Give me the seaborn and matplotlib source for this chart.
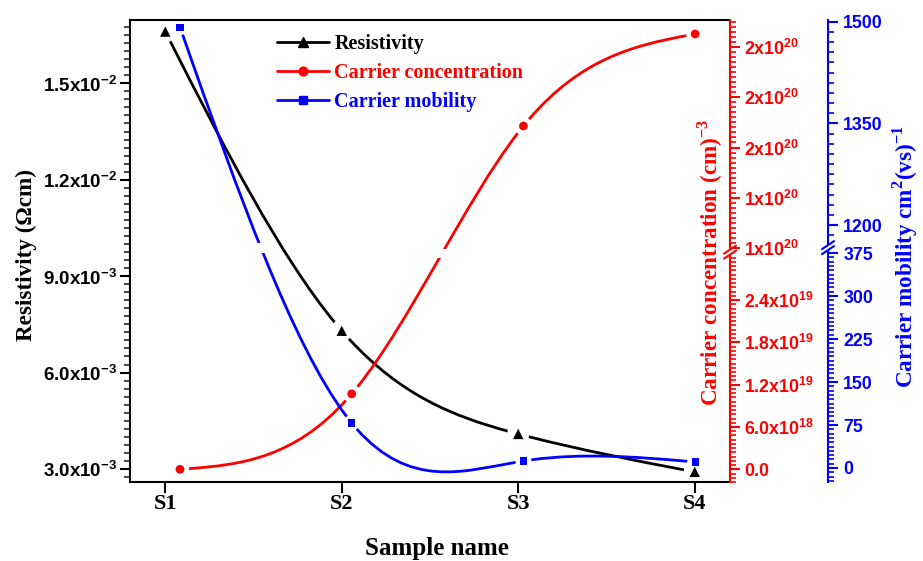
import numpy as np
import matplotlib
matplotlib.use("Agg")
import matplotlib.pyplot as plt
import seaborn as sns
from matplotlib.path import Path
from matplotlib.patches import PathPatch
from matplotlib.lines import Line2D
from matplotlib.ticker import FixedLocator, FuncFormatter, MultipleLocator

# ---- data -------------------------------------------------------------
samples = ["S1", "S2", "S3", "S4"]
resistivity = [1.661e-2, 7.30e-3, 4.09e-3, 2.91e-3]      # Ohm cm
carrier_conc = [0.0, 1.07e19, 1.607e20, 2.065e20]        # cm^-3
mobility = [1492.0, 78.5, 12.2, 10.5]                    # cm^2 / (V s)

res_ticks = [3.0e-3, 6.0e-3, 9.0e-3, 1.2e-2, 1.5e-2]
conc_ticks_low = [0.0, 6.0e18, 1.2e19, 1.8e19, 2.4e19]
conc_ticks_high = [1.0e20, 1.25e20, 1.5e20, 1.75e20, 2.0e20]
mob_ticks_low = [0, 75, 150, 225, 300, 375]
mob_ticks_high = [1200, 1350, 1500]

# ---- style ------------------------------------------------------------
sns.set_theme(style="white")
plt.rcParams.update({
    "font.family": ["Liberation Sans", "DejaVu Sans"],
    "font.weight": "bold",
    "mathtext.fontset": "custom",
    "mathtext.bf": "Liberation Sans:bold",
    "mathtext.rm": "Liberation Serif:bold",
    "axes.linewidth": 1.5,
})
SERIF = dict(family=["Liberation Serif", "DejaVu Serif"], weight="bold")
RED, BLUE, BLACK = "#ff0000", "#0000ff", "#000000"
TITLE_SIZE = 16.7

W, H = 923, 561
FL, FR, FT, FB = 130, 730, 20, 482          # frame in pixels
PW, PH = FR - FL, FB - FT

fig = plt.figure(figsize=(W / 100, H / 100), dpi=100)
rect = [FL / W, (H - FB) / H, PW / W, PH / H]
ax = fig.add_axes(rect, label="res")
ax_r = fig.add_axes(rect, label="conc", facecolor="none")
ax_b = fig.add_axes(rect, label="mob", facecolor="none")


def piecewise(vs, hs):
    """Piecewise-linear broken-axis mapping value -> plot height."""
    vs = np.asarray(vs, float)
    hs = np.asarray(hs, float)

    def fwd(v):
        v = np.asarray(v, float)
        out = hs[0] + (v - vs[0]) * (hs[1] - hs[0]) / (vs[1] - vs[0])
        for k in (1, 2):
            seg = hs[k] + (v - vs[k]) * (hs[k + 1] - hs[k]) / (vs[k + 1] - vs[k])
            out = np.where(v > vs[k], seg, out)
        return out

    def inv(h):
        h = np.asarray(h, float)
        out = vs[0] + (h - hs[0]) * (vs[1] - vs[0]) / (hs[1] - hs[0])
        for k in (1, 2):
            seg = vs[k] + (h - hs[k]) * (vs[k + 1] - vs[k]) / (hs[k + 1] - hs[k])
            out = np.where(h > hs[k], seg, out)
        return out

    return fwd, inv


# carrier concentration axis: lower part 0..3e19, upper part 1e20..2.1e20
r_lo_off, r_lo_k = 12.7, 7.05e-18
r_hi_off, r_hi_k = 234.0, 2.01e-18
r_v1 = 30.5e18
r_h2 = 232.0
conc_vs = [-r_lo_off / r_lo_k, r_v1,
           1e20 + (r_h2 - r_hi_off) / r_hi_k, 1e20 + (PH - r_hi_off) / r_hi_k]
conc_hs = [0.0, r_lo_off + r_lo_k * r_v1, r_h2, PH]
conc_fwd, conc_inv = piecewise(conc_vs, conc_hs)

# mobility axis: lower part 0..378, upper part ~1170..1500
b_lo_off, b_lo_k = 14.0, 0.5733
b_hi_off, b_hi_k = 257.0, 0.6777
b_v1 = 378.0
b_h2 = 238.0
mob_vs = [-b_lo_off / b_lo_k, b_v1,
          1200 + (b_h2 - b_hi_off) / b_hi_k, 1200 + (PH - b_hi_off) / b_hi_k]
mob_hs = [0.0, b_lo_off + b_lo_k * b_v1, b_h2, PH]
mob_fwd, mob_inv = piecewise(mob_vs, mob_hs)

pos = np.arange(len(samples), dtype=float)

ax.set_xlim(-0.2, 3.2)
ax.set_ylim(2.595e-3, 1.697e-2)
for a in (ax_r, ax_b):
    a.set_xlim(-0.291, 3.203)
ax_r.set_yscale("function", functions=(conc_fwd, conc_inv))
ax_r.set_ylim(conc_vs[0], conc_vs[3])
ax_b.set_yscale("function", functions=(mob_fwd, mob_inv))
ax_b.set_ylim(mob_vs[0], mob_vs[3])


# ---- smooth connecting curves (natural cubic spline as Bezier path) ----
def natural_slopes(y):
    y = np.asarray(y, float)
    n = len(y)
    A = np.zeros((n, n))
    b = np.zeros(n)
    A[0, 0] = A[-1, -1] = 1.0
    for i in range(1, n - 1):
        A[i, i - 1:i + 2] = [1.0, 4.0, 1.0]
        b[i] = 6 * (y[i - 1] - 2 * y[i] + y[i + 1])
    M = np.linalg.solve(A, b)
    m = np.empty(n)
    m[:-1] = (y[1:] - y[:-1]) - (2 * M[:-1] + M[1:]) / 6
    m[-1] = (y[-1] - y[-2]) + (M[-2] + 2 * M[-1]) / 6
    return m


def split(P, t):
    p01 = (1 - t) * P[0] + t * P[1]
    p12 = (1 - t) * P[1] + t * P[2]
    p23 = (1 - t) * P[2] + t * P[3]
    p012 = (1 - t) * p01 + t * p12
    p123 = (1 - t) * p12 + t * p23
    p0123 = (1 - t) * p012 + t * p123
    return np.array([P[0], p01, p012, p0123]), np.array([p0123, p123, p23, P[3]])


def spline_path(a, xs, ys, gap_px):
    """Spline in the axis' scaled space, leaving a gap around each symbol."""
    trans = a.transLimits + a.transAxes
    m = natural_slopes(ys)
    verts, codes = [], []
    for i in range(len(xs) - 1):
        P = np.array([[xs[i], ys[i]],
                      [xs[i] + 1 / 3, ys[i] + m[i] / 3],
                      [xs[i + 1] - 1 / 3, ys[i + 1] - m[i + 1] / 3],
                      [xs[i + 1], ys[i + 1]]])
        D = trans.transform(P)
        s0 = 3 * np.hypot(*(D[1] - D[0]))
        s1 = 3 * np.hypot(*(D[3] - D[2]))
        t0 = min(gap_px / s0, 0.45)
        t1 = max(1 - gap_px / s1, 0.55)
        left, _ = split(P, t1)
        _, Q = split(left, t0 / t1)
        verts.extend(Q)
        codes.extend([Path.MOVETO, Path.CURVE4, Path.CURVE4, Path.CURVE4])
    return Path(np.array(verts), codes), trans


def band_clip(h_lo, h_hi):
    """Two rectangles (axes fraction) that leave out the break band."""
    b0, b1 = h_lo / PH, h_hi / PH
    verts = [(-1, -1), (2, -1), (2, b0), (-1, b0), (-1, -1),
             (-1, b1), (2, b1), (2, 2), (-1, 2), (-1, b1)]
    codes = [Path.MOVETO, Path.LINETO, Path.LINETO, Path.LINETO, Path.CLOSEPOLY] * 2
    return Path(verts, codes)


LW = 2.0
path_k, tr_k = spline_path(ax, pos, np.asarray(resistivity), 11)
ax.add_patch(PathPatch(path_k, transform=tr_k, fill=False, edgecolor=BLACK, lw=LW,
                       capstyle="butt", zorder=2))

path_r, tr_r = spline_path(ax_r, pos, conc_fwd(carrier_conc), 9)
patch_r = PathPatch(path_r, transform=tr_r, fill=False, edgecolor=RED, lw=LW,
                    capstyle="butt", zorder=2)
patch_r.set_clip_path(band_clip(224.0, 233.0), ax_r.transAxes)
ax_r.add_patch(patch_r)

path_b, tr_b = spline_path(ax_b, pos, mob_fwd(mobility), 8)
patch_b = PathPatch(path_b, transform=tr_b, fill=False, edgecolor=BLUE, lw=LW,
                    capstyle="butt", zorder=2)
patch_b.set_clip_path(band_clip(229.0, 239.0), ax_b.transAxes)
ax_b.add_patch(patch_b)

# ---- symbols ----------------------------------------------------------
sns.scatterplot(x=pos, y=resistivity, ax=ax, marker="^", s=7.5 ** 2, color=BLACK,
                edgecolor="none", linewidth=0, zorder=3, legend=False, clip_on=False)
sns.scatterplot(x=pos, y=carrier_conc, ax=ax_r, marker="o", s=6.3 ** 2, color=RED,
                edgecolor="none", linewidth=0, zorder=3, legend=False, clip_on=False)
sns.scatterplot(x=pos, y=mobility, ax=ax_b, marker="s", s=5.2 ** 2, color=BLUE,
                edgecolor="none", linewidth=0, zorder=3, legend=False, clip_on=False)

ax.set_xlim(-0.2, 3.2)
ax.set_ylim(2.595e-3, 1.697e-2)
for a in (ax_r, ax_b):
    a.set_xlim(-0.291, 3.203)
ax_r.set_ylim(conc_vs[0], conc_vs[3])
ax_b.set_ylim(mob_vs[0], mob_vs[3])
for a in (ax, ax_r, ax_b):
    a.set_xlabel("")
    a.set_ylabel("")


# ---- tick labels ------------------------------------------------------
def sci_label(v, decimals):
    if v == 0:
        return f"{0:.{decimals}f}"
    e = int(np.floor(np.log10(abs(v)) + 1e-9))
    mant = v / 10.0 ** e
    return f"{mant:.{decimals}f}x10$^{{\\mathbf{{{e}}}}}$"


# resistivity (left)
ax.yaxis.set_major_locator(FixedLocator(res_ticks))
ax.yaxis.set_minor_locator(MultipleLocator(2.5e-4))
ax.yaxis.set_major_formatter(FuncFormatter(lambda v, p: sci_label(v, 1)))
ax.tick_params(axis="y", which="major", direction="out", length=7, width=1.5,
               labelsize=13.5, pad=2, left=True, colors=BLACK)
ax.tick_params(axis="y", which="minor", direction="out", length=4, width=1.2, left=True)
ax.set_xticks(pos)
ax.set_xticklabels(samples, **SERIF, fontsize=16)
ax.tick_params(axis="x", which="major", direction="out", length=8, width=1.5,
               bottom=True, pad=0.5, colors=BLACK)
ax.tick_params(axis="x", which="minor", bottom=False)
ax.spines["right"].set_visible(False)
for s in ("left", "bottom", "top"):
    ax.spines[s].set_color(BLACK)
    ax.spines[s].set_linewidth(1.5)

# carrier concentration (red, broken)
conc_minor = list(np.arange(-3, 51) * 6e17) + list(1e20 + np.arange(0, 46) * 2.5e18)
ax_r.yaxis.set_major_locator(FixedLocator(conc_ticks_low + conc_ticks_high))
ax_r.yaxis.set_minor_locator(FixedLocator(conc_minor))
ax_r.yaxis.set_major_formatter(FuncFormatter(
    lambda v, p: sci_label(v, 1) if v < 5e19 else sci_label(v, 0)))
ax_r.yaxis.set_ticks_position("right")
ax_r.tick_params(axis="y", which="major", direction="out", length=7, width=1.5,
                 labelsize=12.8, pad=3, colors=RED)
ax_r.tick_params(axis="y", which="minor", direction="out", length=4, width=1.2, colors=RED)
ax_r.xaxis.set_visible(False)
for s in ("left", "bottom", "top"):
    ax_r.spines[s].set_visible(False)
ax_r.spines["right"].set_color(RED)
ax_r.spines["right"].set_linewidth(1.5)

# mobility (blue, broken, offset spine)
mob_minor = list(np.arange(-3, 51) * 7.5) + list(1185 + np.arange(0, 22) * 15.0)
ax_b.yaxis.set_major_locator(FixedLocator(mob_ticks_low + mob_ticks_high))
ax_b.yaxis.set_minor_locator(FixedLocator(mob_minor))
ax_b.yaxis.set_major_formatter(FuncFormatter(lambda v, p: f"{v:.0f}"))
ax_b.yaxis.set_ticks_position("right")
ax_b.tick_params(axis="y", which="major", direction="out", length=7, width=1.5,
                 labelsize=12.8, pad=4, colors=BLUE)
ax_b.tick_params(axis="y", which="minor", direction="out", length=4, width=1.2, colors=BLUE)
ax_b.xaxis.set_visible(False)
for s in ("left", "bottom", "top"):
    ax_b.spines[s].set_visible(False)
ax_b.spines["right"].set_position(("axes", (828 - FL) / PW))
ax_b.spines["right"].set_color(BLUE)
ax_b.spines["right"].set_linewidth(1.5)


# ---- axis break marks -------------------------------------------------
def break_mark(px, h_mid, color):
    fx = (px - FL) / PW
    ax_b.plot([fx, fx], [(h_mid - 3) / PH, (h_mid + 3) / PH], transform=ax_b.transAxes,
              color="white", lw=3, clip_on=False, zorder=5, solid_capstyle="butt")
    for dy in (-2.5, 2.5):
        ax_b.plot([fx - 6 / PW, fx + 6 / PW],
                  [(h_mid + dy - 4) / PH, (h_mid + dy + 4) / PH],
                  transform=ax_b.transAxes, color=color, lw=1.5, clip_on=False, zorder=6)


break_mark(FR, (conc_hs[1] + conc_hs[2]) / 2, RED)
break_mark(828, (mob_hs[1] + mob_hs[2]) / 2, BLUE)

# ---- legend -----------------------------------------------------------
handles = [
    Line2D([], [], color=BLACK, lw=LW, marker="^", markersize=7.5, label="Resistivity"),
    Line2D([], [], color=RED, lw=LW, marker="o", markersize=6.3, label="Carrier concentration"),
    Line2D([], [], color=BLUE, lw=LW, marker="s", markersize=5.2, label="Carrier mobility"),
]
leg = ax_b.legend(handles=handles, loc="upper left",
                  bbox_to_anchor=((277 - FL) / PW, (FB - 34) / PH),
                  frameon=False, prop=dict(**SERIF, size=14.5), labelcolor="linecolor",
                  handlelength=2.6, handletextpad=0.25, labelspacing=0.44,
                  borderpad=0, borderaxespad=0)
leg.set_zorder(10)

# ---- axis titles ------------------------------------------------------
fig.text(26 / W, 1 - 255 / H, "Resistivity (\u03a9cm)", rotation=90,
         ha="center", va="center", fontsize=TITLE_SIZE, color=BLACK, **SERIF)
fig.text(710 / W, 1 - 262 / H, r"Carrier concentration (cm)$^{\mathrm{-3}}$", rotation=90,
         ha="center", va="center", fontsize=TITLE_SIZE, color=RED, **SERIF)
fig.text(905 / W, 1 - 257 / H, r"Carrier mobility cm$^{\mathrm{2}}$(vs)$^{\mathrm{-1}}$",
         rotation=90, ha="center", va="center", fontsize=TITLE_SIZE, color=BLUE, **SERIF)
fig.text(437 / W, 1 - 548 / H, "Sample name", ha="center", va="center",
         fontsize=18, color=BLACK, **SERIF)

fig.savefig("out.png", dpi=100)
